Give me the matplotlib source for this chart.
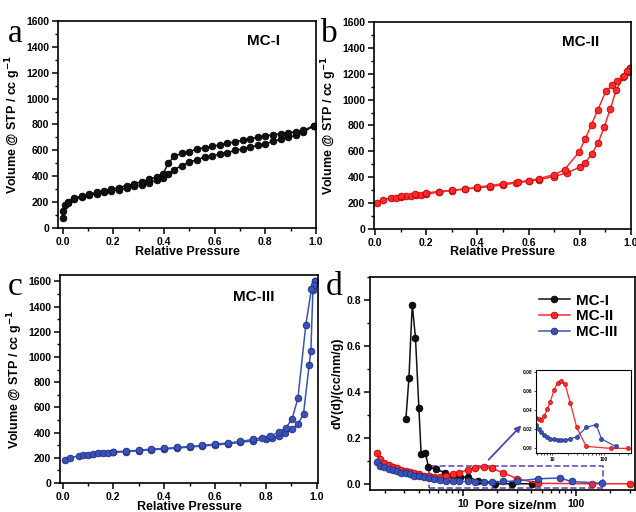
import numpy as np
import matplotlib
matplotlib.use('Agg')
import matplotlib.pyplot as plt
from matplotlib.patches import Rectangle
from matplotlib.ticker import MultipleLocator, FixedLocator, NullFormatter

plt.rcParams['font.family'] = ['Liberation Sans', 'DejaVu Sans']
plt.rcParams['font.weight'] = 'bold'

# ---- isotherm data (relative pressure, volume cc/g) ----
mc1_ads_p = [0.0, 0.003, 0.01, 0.02, 0.045, 0.075, 0.105, 0.134, 0.164, 0.193, 0.224, 0.253, 0.283,
             0.312, 0.342, 0.371, 0.397, 0.417, 0.44, 0.47, 0.50, 0.53, 0.56, 0.59, 0.62, 0.65,
             0.68, 0.71, 0.74, 0.77, 0.80, 0.83, 0.86, 0.89, 0.92, 0.95, 0.99]
mc1_ads_v = [77, 129, 180, 200, 224, 239, 252, 265, 275, 285, 296, 308, 321,
             334, 350, 368, 386, 420, 450, 483, 509, 527, 548, 560, 571, 583,
             599, 612, 625, 638, 650, 671, 686, 702, 715, 740, 790]
mc1_des_p = [0.99, 0.95, 0.92, 0.89, 0.86, 0.83, 0.80, 0.77, 0.74, 0.71, 0.68, 0.65, 0.62,
             0.59, 0.56, 0.53, 0.50, 0.47, 0.44, 0.417, 0.397, 0.371, 0.342, 0.312, 0.283,
             0.253, 0.224, 0.193, 0.164, 0.134, 0.105, 0.075, 0.045, 0.02]
mc1_des_v = [790, 755, 742, 738, 728, 722, 712, 702, 690, 678, 666, 655, 643,
             630, 622, 609, 591, 578, 553, 501, 420, 395, 375, 358, 342,
             328, 312, 300, 288, 275, 262, 248, 228, 195]

mc2_ads_p = [0.008, 0.033, 0.063, 0.083, 0.10, 0.12, 0.14, 0.16, 0.18, 0.20, 0.25, 0.30, 0.35,
             0.40, 0.45, 0.50, 0.55, 0.60, 0.642, 0.70, 0.75, 0.80, 0.822, 0.846, 0.872,
             0.896, 0.92, 0.943, 0.971, 0.987, 0.997]
mc2_ads_v = [201, 227, 237, 242, 247, 253, 258, 263, 265, 270, 284, 296, 307,
             317, 327, 340, 356, 368, 381, 405, 433, 477, 513, 577, 665,
             791, 930, 1077, 1175, 1211, 1245]
mc2_des_p = [0.997, 0.984, 0.974, 0.945, 0.928, 0.902, 0.87, 0.846, 0.822, 0.797, 0.741,
             0.70, 0.642, 0.60, 0.56, 0.50, 0.45, 0.40, 0.35, 0.30, 0.25, 0.20, 0.155, 0.10]
mc2_des_v = [1245, 1224, 1186, 1142, 1111, 1065, 917, 807, 698, 593, 459,
             420, 389, 374, 363, 350, 335, 322, 309, 299, 289, 278, 270, 257]

mc3_ads_p = [0.01, 0.03, 0.065, 0.08, 0.10, 0.12, 0.14, 0.16, 0.18, 0.20, 0.25, 0.30, 0.35,
             0.40, 0.45, 0.50, 0.55, 0.60, 0.65, 0.70, 0.75, 0.80, 0.824, 0.85, 0.876,
             0.903, 0.926, 0.948, 0.97, 0.977, 0.985, 0.994]
mc3_ads_v = [179, 200, 216, 219, 224, 229, 235, 237, 240, 243, 248, 256, 264,
             269, 277, 285, 293, 301, 311, 322, 335, 348, 361, 375, 396,
             427, 467, 549, 934, 1050, 1530, 1601]
mc3_des_p = [0.994, 0.988, 0.979, 0.957, 0.926, 0.903, 0.88, 0.85, 0.818, 0.785, 0.75,
             0.70, 0.65, 0.60, 0.55, 0.50, 0.45, 0.40, 0.35, 0.30, 0.25, 0.20]
mc3_des_v = [1601, 1570, 1536, 1253, 673, 509, 440, 401, 375, 359, 346,
             330, 317, 309, 298, 290, 282, 274, 269, 261, 253, 248]

# ---- pore size distribution (nm, cc/nm/g) ----
pore_1 = [3.09, 3.29, 3.52, 3.76, 4.03, 4.22, 4.61, 4.90, 5.73, 6.89, 8.16, 9.35, 11.1, 13.6,
          19.1, 26.8, 40.3]
dv_1 = [0.28, 0.46, 0.78, 0.635, 0.33, 0.13, 0.132, 0.074, 0.063, 0.048, 0.035, 0.028, 0.03,
        0.01, 0.0, 0.0, 0.0]
pore_2 = [1.71, 1.83, 1.99, 2.17, 2.37, 2.57, 2.81, 3.07, 3.38, 3.68, 4.08, 4.49, 4.97, 5.53,
          6.22, 7.03, 8.05, 9.22, 10.9, 12.8, 15.1, 17.9, 22.5, 30.1, 46.1, 137, 298]
dv_2 = [0.135, 0.106, 0.089, 0.081, 0.074, 0.067, 0.060, 0.055, 0.051, 0.045, 0.041, 0.036,
        0.032, 0.031, 0.030, 0.034, 0.041, 0.049, 0.061, 0.069, 0.071, 0.067, 0.048, 0.022,
        0.002, 0.0, 0.0]
pore_3 = [1.71, 1.83, 1.99, 2.17, 2.37, 2.57, 2.81, 3.07, 3.38, 3.68, 4.08, 4.49, 4.97, 5.53,
          6.22, 7.03, 8.05, 9.22, 10.9, 12.8, 15.1, 17.9, 22.5, 30.1, 46.1, 71.8, 91, 171]
dv_3 = [0.094, 0.078, 0.071, 0.064, 0.060, 0.054, 0.049, 0.045, 0.041, 0.036, 0.032, 0.029,
        0.024, 0.020, 0.017, 0.014, 0.012, 0.010, 0.010, 0.009, 0.009, 0.009, 0.010, 0.012,
        0.022, 0.025, 0.010, 0.002]

names = ['MC-I', 'MC-II', 'MC-III']
colors = ['#111111', '#ff2a2a', '#3a52b8']
edges = ['#000000', '#c00000', '#1e2f80']

fig = plt.figure(figsize=(6.36, 5.12), dpi=100)


def style_axes(ax):
    for s in ax.spines.values():
        s.set_linewidth(1.2)
    ax.tick_params(which='major', direction='out', length=4, width=1.1, labelsize=7.5,
                   top=False, right=False, pad=2.5)
    ax.tick_params(which='minor', direction='out', length=2, width=1, top=False, right=False)
    for lab in ax.get_xticklabels() + ax.get_yticklabels():
        lab.set_fontweight('bold')


def isotherm(rect, ads, des, i, ylim, xlim, title, tpos):
    ax = fig.add_axes(rect)
    kw = dict(color=colors[i], lw=1.1, marker='o', ms=4.8, mfc=colors[i], mec=edges[i], mew=0.6)
    ax.plot(ads[0], ads[1], **kw)
    ax.plot(des[0], des[1], **kw)
    ax.set_xlim(*xlim)
    ax.set_ylim(*ylim)
    ax.xaxis.set_minor_locator(MultipleLocator(0.1))
    ax.yaxis.set_major_locator(MultipleLocator(200))
    ax.yaxis.set_minor_locator(MultipleLocator(100))
    ax.set_xticks([0, 0.2, 0.4, 0.6, 0.8, 1.0])
    ax.set_xticklabels(['0.0', '0.2', '0.4', '0.6', '0.8', '1.0'])
    style_axes(ax)
    ax.set_xlabel('Relative Pressure', fontsize=9, fontweight='bold')
    ax.xaxis.set_label_coords(0.5, -0.085)
    ax.set_ylabel('Volume @ STP / cc g$^{\\mathbf{-1}}$', fontsize=9, fontweight='bold', labelpad=2)
    ax.text(tpos[0], tpos[1], title, transform=ax.transAxes, ha='center', va='center',
            fontsize=11, fontweight='bold')
    return ax


isotherm([0.0912, 0.5547, 0.4058, 0.4043], (mc1_ads_p, mc1_ads_v), (mc1_des_p, mc1_des_v), 0,
         (0, 1600), (-0.018, 1.0), 'MC-I', (0.795, 0.903))
isotherm([0.588, 0.553, 0.404, 0.404], (mc2_ads_p, mc2_ads_v), (mc2_des_p, mc2_des_v), 1,
         (0, 1600), (-0.004, 1.0), 'MC-II', (0.805, 0.903))
isotherm([0.0943, 0.0566, 0.4057, 0.4062], (mc3_ads_p, mc3_ads_v), (mc3_des_p, mc3_des_v), 2,
         (0, 1650), (-0.01, 1.005), 'MC-III', (0.75, 0.894))

# ---- panel d ----
axd = fig.add_axes([0.582, 0.043, 0.416, 0.416])
series = [(pore_1, dv_1), (pore_2, dv_2), (pore_3, dv_3)]
for i, (x, y) in enumerate(series):
    axd.plot(x, y, color=colors[i], lw=1.1, marker='o', ms=4.8, mfc=colors[i], mec=edges[i],
             mew=0.6, label=names[i])
axd.set_xscale('log')
axd.set_xlim(1.49, 331)
axd.set_ylim(-0.027, 0.9)
axd.yaxis.set_minor_locator(MultipleLocator(0.1))
axd.set_yticks([0, 0.2, 0.4, 0.6, 0.8])
axd.set_yticklabels(['0.0', '0.2', '0.4', '0.6', '0.8'])
axd.xaxis.set_major_locator(FixedLocator([10, 100]))
axd.set_xticklabels(['10', '100'])
axd.xaxis.set_minor_formatter(NullFormatter())
style_axes(axd)
axd.set_ylabel('dV(d)/(cc/nm/g)', fontsize=9, fontweight='bold', labelpad=2)
axd.set_xlabel('Pore size/nm', fontsize=9.5, fontweight='bold')
axd.xaxis.set_label_coords(0.55, -0.045)
leg = axd.legend(loc='upper right', frameon=False, fontsize=11, handlelength=2.0,
                 handletextpad=0.45, labelspacing=0.1, borderaxespad=0.7)
for t in leg.get_texts():
    t.set_fontweight('bold')

axd.add_patch(Rectangle((4.97, -0.017), 173 - 4.97, 0.095, fill=False, ls='--',
                        lw=1.2, ec='#6a4fc0'))
axd.annotate('', xy=(34, 0.263), xytext=(16.1, 0.096),
             arrowprops=dict(arrowstyle='-|>', color='#5a3fb0', lw=1.3, mutation_scale=9))

# inset
axi = fig.add_axes([0.843, 0.115, 0.149, 0.162])
for i in (1, 2):
    x, y = series[i]
    axi.plot(x, y, color=colors[i], lw=0.9, marker='o', ms=3, mfc=colors[i], mec=edges[i],
             mew=0.4)
axi.set_xscale('log')
axi.set_xlim(4.9, 340)
axi.set_ylim(-0.005, 0.082)
axi.set_yticks([0, 0.02, 0.04, 0.06, 0.08])
axi.set_yticklabels(['0.00', '0.02', '0.04', '0.06', '0.08'])
axi.xaxis.set_major_locator(FixedLocator([10, 100]))
axi.set_xticklabels(['10', '100'])
axi.xaxis.set_minor_formatter(NullFormatter())
for s in axi.spines.values():
    s.set_linewidth(0.8)
axi.tick_params(which='both', labelsize=3.5, length=1.5, width=0.5, pad=1)

# panel letters
for (x, y), letter in zip([(0.012, 0.935), (0.505, 0.935), (0.012, 0.44), (0.512, 0.44)],
                          ['a', 'b', 'c', 'd']):
    fig.text(x, y, letter, fontsize=24, family='Liberation Serif', fontweight='normal',
             va='center', ha='left')

fig.savefig('out.png', dpi=100)
